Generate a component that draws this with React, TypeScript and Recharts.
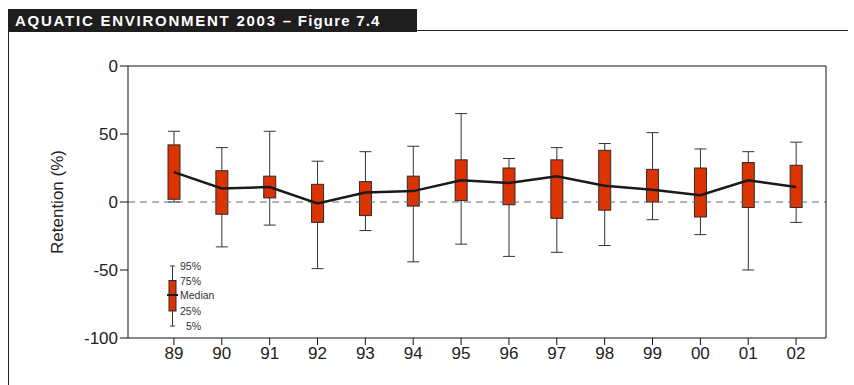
import React from "react"
import { ComposedChart, Bar, Line, XAxis, YAxis, ReferenceLine } from "recharts"

const years = ["89", "90", "91", "92", "93", "94", "95", "96", "97", "98", "99", "00", "01", "02"]
const p95 = [52, 40, 52, 30, 37, 41, 65, 32, 40, 43, 51, 39, 37, 44]
const q3 = [42, 23, 19, 13, 15, 19, 31, 25, 31, 38, 24, 25, 29, 27]
const median = [22, 10, 11, -1, 7, 8, 16, 14, 19, 12, 9, 5, 16, 11]
const q1 = [2, -9, 3, -15, -10, -3, 1, -2, -12, -6, 0, -11, -4, -4]
const p5 = [0, -33, -17, -49, -21, -44, -31, -40, -37, -32, -13, -24, -50, -15]

const yTicks = [-100, -50, 0, 50, 100]
// the printed figure shows "0" at the top tick
const yTickLabels: Record<number, string> = { "-100": "-100", "-50": "-50", "0": "0", "50": "50", "100": "0" }

const data = years.map((year, i) => ({
  year,
  p5: p5[i],
  q1: q1[i],
  median: median[i],
  q3: q3[i],
  p95: p95[i],
}))

const BOX_FILL = "#dd3300"

function BoxShape(props: any) {
  const { x, y, width, height, payload } = props
  if (!payload) return null
  const span = payload.p95 - payload.p5
  const yOf = (v: number) => y + ((payload.p95 - v) / span) * height
  const cx = x + width / 2
  const top = yOf(payload.q3)
  const bottom = yOf(payload.q1)
  return (
    <g>
      <line x1={cx} x2={cx} y1={y} y2={y + height} stroke="#333" strokeWidth={1} />
      <line x1={x} x2={x + width} y1={y} y2={y} stroke="#333" strokeWidth={1} />
      <line x1={x} x2={x + width} y1={y + height} y2={y + height} stroke="#333" strokeWidth={1} />
      <rect x={x} y={top} width={width} height={bottom - top} fill={BOX_FILL} stroke="#2a2a2a" strokeWidth={1} />
    </g>
  )
}

function KeyBox() {
  const lbl = { fontSize: 10.5, fill: "#333", fontFamily: "Liberation Sans, Arial, sans-serif" }
  return (
    <svg width={70} height={80} style={{ position: "absolute", left: 160, top: 258 }}>
      <line x1={12.5} x2={12.5} y1={8} y2={68} stroke="#333" />
      <line x1={10} x2={15} y1={8} y2={8} stroke="#333" />
      <line x1={10} x2={15} y1={68} y2={68} stroke="#333" />
      <rect x={9} y={22.5} width={7} height={30.5} fill={BOX_FILL} stroke="#2a2a2a" />
      <line x1={7} x2={18} y1={37} y2={37} stroke="#1a1a1a" strokeWidth={2} />
      <text x={20} y={11.5} {...lbl}>95%</text>
      <text x={20} y={26.5} {...lbl}>75%</text>
      <text x={20} y={41} {...lbl}>Median</text>
      <text x={20} y={56.5} {...lbl}>25%</text>
      <text x={26} y={71.5} {...lbl}>5%</text>
    </svg>
  )
}

export default function App() {
  const font = "Liberation Sans, Arial, sans-serif"
  return (
    <div style={{ position: "absolute", left: 0, top: 0, width: 854, height: 385, background: "#fff", fontFamily: font }}>
      <div
        style={{
          position: "absolute",
          left: 8,
          top: 9,
          width: 409,
          height: 23,
          background: "#1e1e1e",
          color: "#fff",
          fontWeight: "bold",
          fontSize: 15,
          lineHeight: "23px",
          paddingLeft: 7,
          boxSizing: "border-box",
          whiteSpace: "nowrap",
        }}
      >
        <span style={{ letterSpacing: 1.75 }}>AQUATIC ENVIRONMENT 2003 –</span>
        <span style={{ letterSpacing: 1.2, marginLeft: 5 }}>Figure 7.4</span>
      </div>
      <div style={{ position: "absolute", left: 417, top: 30, width: 431, height: 1, background: "#222" }} />
      <div style={{ position: "absolute", left: 8, top: 32, width: 1, height: 353, background: "#222" }} />

      <ComposedChart
        width={854}
        height={385}
        data={data}
        margin={{ top: 65, right: 27, bottom: 7, left: 8 }}
        style={{ position: "absolute", left: 0, top: 0 }}
      >
        <XAxis
          dataKey="year"
          padding={{ left: 22, right: 6 }}
          height={40}
          stroke="#111"
          tickLine={{ stroke: "#111" }}
          tickSize={7}
          tick={{ fontSize: 17, fill: "#222", fontFamily: font }}
          interval={0}
        />
        <XAxis xAxisId="top" dataKey="year" orientation="top" height={1} tick={false} tickLine={false} stroke="#111" />
        <YAxis
          domain={[-100, 100]}
          ticks={yTicks}
          width={120}
          stroke="#111"
          tickSize={8}
          tickLine={{ stroke: "#111" }}
          tickFormatter={(v: number) => yTickLabels[v]}
          tick={{ fontSize: 17, fill: "#222", fontFamily: font }}
          label={{
            value: "Retention (%)",
            angle: -90,
            position: "insideLeft",
            offset: 49,
            style: { textAnchor: "middle", fontSize: 17, fill: "#222", fontFamily: font },
          }}
        />
        <YAxis yAxisId="right" orientation="right" width={1} domain={[-100, 100]} tick={false} tickLine={false} stroke="#111" />
        <ReferenceLine y={0} stroke="#666" strokeDasharray="7 5" strokeWidth={1} />
        <Bar
          dataKey={(d: any) => [d.p5, d.p95]}
          barSize={12}
          shape={<BoxShape />}
          isAnimationActive={false}
        />
        <Line
          type="linear"
          dataKey="median"
          stroke="#1a1a1a"
          strokeWidth={2.5}
          dot={false}
          isAnimationActive={false}
        />
      </ComposedChart>
      <KeyBox />
    </div>
  )
}
